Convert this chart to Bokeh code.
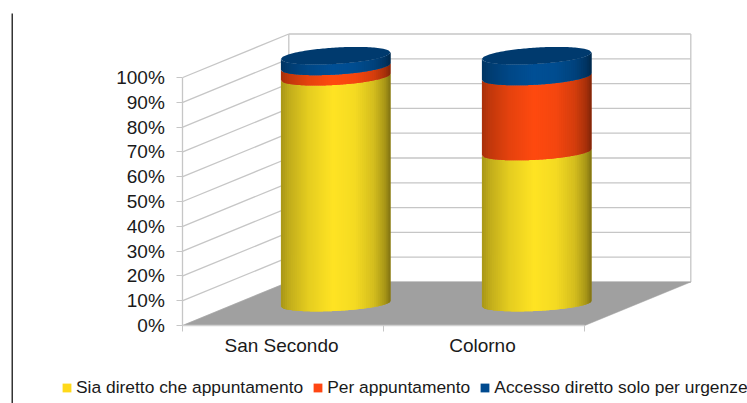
import numpy as np
from bokeh.embed import file_html
from bokeh.resources import INLINE
from bokeh.plotting import figure
from bokeh.models import Range1d, FixedTicker, Legend, LegendItem

categories = ["San Secondo", "Colorno"]
series_names = ["Sia diretto che appuntamento", "Per appuntamento", "Accesso diretto solo per urgenze"]
sia_diretto = [91.5, 61.2]
per_appuntamento = [4.2, 30.4]
accesso_urgenze = [4.3, 8.4]
y_ticks = [0, 10, 20, 30, 40, 50, 60, 70, 80, 90, 100]

series = [sia_diretto, per_appuntamento, accesso_urgenze]
base_rgb = [(255, 228, 36), (255, 74, 16), (0, 80, 150)]
legend_colors = ["#ffd91a", "#ff4612", "#004a8f"]

# page-pixel calibration
W, H = 747, 403
X0, PX_X = 182.3, 201.0     # x=0 at page px, px per category
Y0, PX_Y = 325.0, 2.48      # value 0 at page px, px per %
DX, DY = 106.0 / PX_X, 43.5 / PX_Y  # 3-D depth offset in data units
x_range = Range1d((0 - X0) / PX_X, (W - X0) / PX_X)
y_range = Range1d((Y0 - H) / PX_Y, Y0 / PX_Y)

p = figure(width=W, height=H, x_range=x_range, y_range=y_range, output_backend="svg",
           toolbar_location=None, min_border=0, outline_line_color=None,
           background_fill_color="white", border_fill_color="white")
p.grid.visible = False

GRID = "#c6c6c6"
n = len(categories)
top = y_ticks[-1]

# back wall and side-wall grid lines
gx, gy = [], []
for v in y_ticks:
    gx.append([DX, n + DX])
    gy.append([v + DY, v + DY])
    gx.append([0, DX])
    gy.append([v, v + DY])
for xv in (DX, n + DX):
    gx.append([xv, xv])
    gy.append([DY, top + DY])
p.multi_line(gx, gy, line_color=GRID, line_width=1.3)

# floor
p.patch([0, n, n + DX, DX], [0, 0, DY, DY], fill_color="#a0a0a0", line_color="#a0a0a0", line_width=0.5)

# cylinders
def shade(u):
    return np.interp(u, [-1, -0.85, -0.5, -0.05, 0.35, 0.7, 0.9, 1],
                     [0.66, 0.76, 0.9, 1.0, 0.96, 0.83, 0.66, 0.5])

def hexcol(rgb, f):
    return "#%02x%02x%02x" % tuple(int(min(255, c * f)) for c in rgb)

A = 54.8 / PX_X
DEPTH = 0.5
X_SHIFT = -0.6 / PX_X
def tilt(v):
    return (2.7 + 0.6 * v / 100) / PX_Y
def minor(v):
    return (7.2 + 1.0 * v / 100) / PX_Y

edges = np.linspace(-1, 1, 55)
overlap = edges[1] - edges[0]
xs, ys, cols = [], [], []
for i in range(n):
    cx = i + 0.5 + DEPTH * DX + X_SHIFT
    cy = DEPTH * DY
    bottom = 0.0
    for vals, rgb in zip(series, base_rgb):
        upper = bottom + vals[i]
        for u0, u1 in zip(edges[:-1], edges[1:]):
            # each strip runs under the next one, so no seam shows
            us = np.linspace(u0, min(1.0, u1 + overlap), 5)
            low = cy + bottom + tilt(bottom) * us - minor(bottom) * np.sqrt(1 - us ** 2)
            up = cy + upper + tilt(upper) * us - minor(upper) * np.sqrt(1 - us ** 2)
            xs.append(list(cx + A * us) + list(cx + A * us[::-1]))
            ys.append(list(low) + list(up[::-1]))
            cols.append(hexcol(rgb, shade((u0 + u1) / 2)))
        bottom = upper
    # top cap
    us = np.linspace(-1, 1, 61)
    xs.append(list(cx + A * us) + list(cx + A * us[::-1]))
    ys.append(list(cy + bottom + tilt(bottom) * us - minor(bottom) * np.sqrt(1 - us ** 2)) +
              list((cy + bottom + tilt(bottom) * us + minor(bottom) * np.sqrt(1 - us ** 2))[::-1]))
    cols.append("#003a6e")
p.patches(xs, ys, fill_color=cols, line_color=None)

# axes
FONT = "Liberation Sans"
xa = p.xaxis[0]
xa.fixed_location = 0
xa.bounds = (0, n)
LABEL_NUDGE = -1.8 / PX_X
xa.ticker = FixedTicker(ticks=[i + 0.5 + LABEL_NUDGE for i in range(n)], minor_ticks=list(range(n + 1)))
xa.major_label_overrides = {i + 0.5 + LABEL_NUDGE: c for i, c in enumerate(categories)}
xa.major_tick_line_color = None
xa.minor_tick_out = 6
xa.minor_tick_in = 0
xa.minor_tick_line_color = GRID
xa.axis_line_color = "#d0d0d0"
xa.axis_line_width = 1.3
xa.major_label_standoff = 3
xa.major_label_text_font = FONT
xa.major_label_text_font_size = "19px"
xa.major_label_text_color = "#1a1a1a"

ya = p.yaxis[0]
ya.fixed_location = 0
ya.bounds = (0, top)
ya.ticker = FixedTicker(ticks=y_ticks)
ya.major_label_overrides = {v: f"{v}%" for v in y_ticks}
ya.major_tick_in = 0
ya.major_tick_out = 6
ya.major_tick_line_color = GRID
ya.minor_tick_line_color = None
ya.axis_line_color = GRID
ya.axis_line_width = 1.3
ya.major_label_standoff = 12
ya.major_label_text_font = FONT
ya.major_label_text_font_size = "19px"
ya.major_label_text_color = "#1a1a1a"

# rule at the left of the page
lx = (11.7 - X0) / PX_X
p.line([lx, lx], [y_range.start, (Y0 - 13) / PX_Y], line_color="black", line_width=1.2)

# legend
items = []
nan = float("nan")
for name, c in zip(series_names, legend_colors):
    r = p.quad(left=[nan], right=[nan], top=[nan], bottom=[nan], fill_color=c, line_color=c, line_width=0)
    items.append(LegendItem(label=name, renderers=[r]))
legend = Legend(items=items, orientation="horizontal", location=(61, 5), border_line_color=None,
                background_fill_alpha=0, padding=0, margin=0, spacing=9, label_standoff=4,
                glyph_width=11, glyph_height=11, label_text_font=FONT, label_text_font_size="17.4px",
                label_text_color="#1a1a1a")
p.add_layout(legend, "center")

open("out.html", "w").write(file_html(p, INLINE))
